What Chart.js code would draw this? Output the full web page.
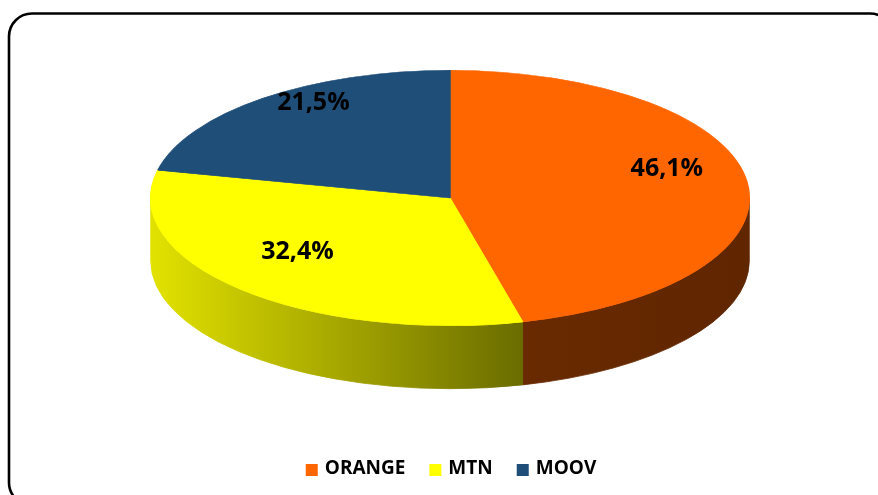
<!DOCTYPE html>
<html>
<head>
<meta charset="utf-8">
<script src="https://cdn.jsdelivr.net/npm/chart.js@4.4.1/dist/chart.umd.min.js"></script>
<style>
  html, body { margin: 0; padding: 0; background: #ffffff; }
  canvas { display: block; }
</style>
</head>
<body>
<canvas id="c" width="878" height="495"></canvas>
<script>
// ---- data ----
const categories = ['ORANGE', 'MTN', 'MOOV'];
const shares = [46.1, 32.4, 21.5];
const topColors = ['#FF6600', '#FFFF00', '#1F4E79'];
const sideLight = ['#692a00', '#e2e200', '#1a4268'];
const sideDark = ['#602600', '#6a6c00', '#133252'];

// ---- presentation constants ----
const SX = 300 / 128;      // horizontal stretch of the tilted pie
const DEPTH = 63;          // wall thickness in px
const LABEL_RX = 0.73;
const LABEL_RY = 0.78;
const LABEL_DY = -17;

function fmt(v) { return v.toFixed(1).replace('.', ',') + '%'; }

const pie3d = {
  id: 'pie3d',
  beforeDraw(chart) {
    const ctx = chart.ctx;
    ctx.save();
    ctx.fillStyle = '#ffffff';
    ctx.fillRect(0, 0, chart.width, chart.height);
    ctx.lineWidth = 2.6;
    ctx.strokeStyle = '#000000';
    ctx.beginPath();
    ctx.roundRect(9, 13.5, 884, 492, 23);
    ctx.stroke();
    ctx.restore();
  },
  beforeDatasetsDraw(chart) {
    const ctx = chart.ctx;
    const meta = chart.getDatasetMeta(0);
    const a0 = meta.data[0];
    const cx = a0.x, cy = a0.y, r = a0.outerRadius;
    const rx = r * SX, ry = r;
    const TAU = Math.PI * 2;
    meta.data.forEach((arc, i) => {
      const s = arc.startAngle, e = arc.endAngle;
      for (const k of [-1, 0, 1]) {
        const lo = Math.max(s, TAU * k), hi = Math.min(e, TAU * k + Math.PI);
        if (hi <= lo) continue;
        const xR = cx + rx * Math.cos(lo), xL = cx + rx * Math.cos(hi);
        const g = ctx.createLinearGradient(xL, 0, xR, 0);
        g.addColorStop(0, sideLight[i]);
        g.addColorStop(1, sideDark[i]);
        ctx.save();
        ctx.beginPath();
        ctx.ellipse(cx, cy, rx, ry, 0, lo, hi, false);
        ctx.ellipse(cx, cy + DEPTH, rx, ry, 0, hi, lo, true);
        ctx.closePath();
        ctx.fillStyle = g;
        ctx.fill();
        ctx.strokeStyle = g;
        ctx.lineWidth = 0.8;
        ctx.stroke();
        ctx.restore();
      }
    });
    ctx.save();
    ctx.translate(cx, cy);
    ctx.scale(SX, 1);
    ctx.translate(-cx, -cy);
  },
  afterDatasetsDraw(chart) {
    chart.ctx.restore();
  },
  afterDraw(chart) {
    const ctx = chart.ctx;
    const meta = chart.getDatasetMeta(0);
    const a0 = meta.data[0];
    const cx = a0.x, cy = a0.y, r = a0.outerRadius;
    const rx = r * SX, ry = r;
    ctx.save();
    ctx.fillStyle = '#000000';
    ctx.font = 'bold 25px "Open Sans"';
    ctx.textAlign = 'center';
    ctx.textBaseline = 'middle';
    meta.data.forEach((arc, i) => {
      const m = (arc.startAngle + arc.endAngle) / 2;
      const x = cx + LABEL_RX * rx * Math.cos(m);
      const y = cy + LABEL_RY * ry * Math.sin(m) + LABEL_DY;
      ctx.fillText(fmt(shares[i]), x, y);
    });
    // legend
    ctx.font = 'bold 19px "Open Sans"';
    ctx.textAlign = 'left';
    const box = 12, gap = 7, spacing = 24;
    const widths = categories.map(c => ctx.measureText(c).width);
    const total = widths.reduce((a, w) => a + box + gap + w, 0) + spacing * (categories.length - 1);
    let x = 451 - total / 2;
    const ly = 469;
    categories.forEach((c, i) => {
      ctx.fillStyle = topColors[i];
      ctx.fillRect(x, ly - box / 2 + 1, box, box);
      ctx.fillStyle = '#000000';
      ctx.fillText(c, x + box + gap, ly);
      x += box + gap + widths[i] + spacing;
    });
    ctx.restore();
  }
};

new Chart(document.getElementById('c'), {
  type: 'pie',
  data: {
    labels: categories,
    datasets: [{
      data: shares,
      backgroundColor: topColors,
      borderColor: topColors,
      borderWidth: 0.6,
      clip: false
    }]
  },
  options: {
    responsive: false,
    animation: false,
    devicePixelRatio: 1,
    layout: { padding: { top: 70, bottom: 169, left: 322, right: 300 } },
    plugins: {
      legend: { display: false },
      tooltip: { enabled: false }
    }
  },
  plugins: [pie3d]
});
</script>
</body>
</html>
